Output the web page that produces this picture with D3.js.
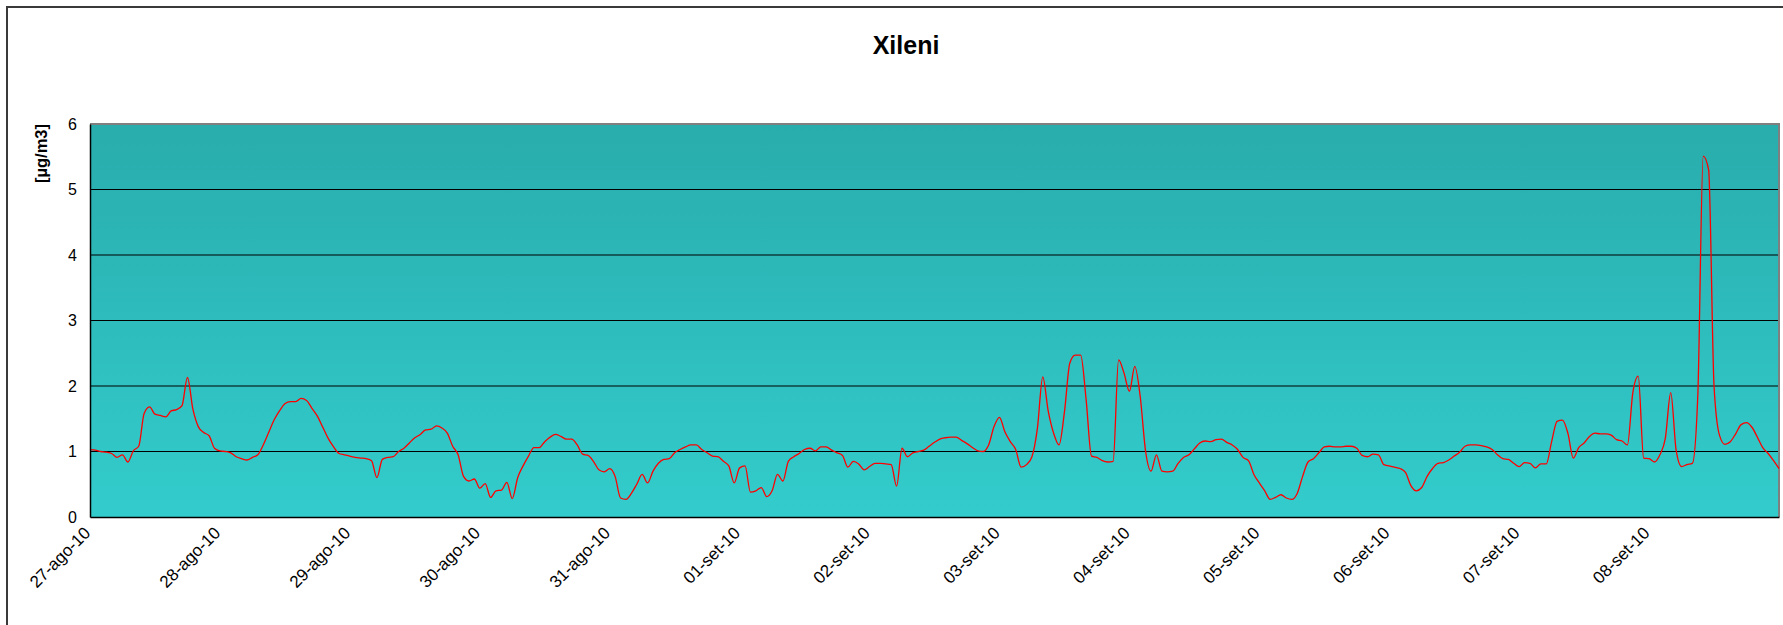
<!DOCTYPE html>
<html>
<head>
<meta charset="utf-8">
<script src="https://cdn.jsdelivr.net/npm/d3@7"></script>
<style>
  body { margin: 0; background: #fff; }
  svg { display: block; font-family: "Liberation Sans", Arial, sans-serif; }
</style>
</head>
<body>
<div id="chart"></div>
<script>
// Hourly series, first value at 27-ago-10 00:00
const startTime = new Date(2010, 7, 27, 0, 0);
const endTime = new Date(2010, 8, 9, 0, 0);

const tickLabels = ["27-ago-10", "28-ago-10", "29-ago-10", "30-ago-10", "31-ago-10", "01-set-10",
    "02-set-10", "03-set-10", "04-set-10", "05-set-10", "06-set-10", "07-set-10", "08-set-10"];
const yTicks = [0, 1, 2, 3, 4, 5, 6];

// Xileni [µg/m3], one array per day (24 hourly values)
const ago27 = [1.03, 1.02, 1.00, 0.99, 0.97, 0.91, 0.95, 0.84, 1.01, 1.08, 1.58, 1.68, 1.57, 1.55, 1.53, 1.62, 1.64, 1.70, 2.13, 1.65, 1.38, 1.29, 1.24, 1.05];
const ago28 = [1.01, 1.00, 0.98, 0.92, 0.89, 0.87, 0.91, 0.95, 1.10, 1.29, 1.48, 1.62, 1.73, 1.76, 1.76, 1.81, 1.78, 1.66, 1.54, 1.37, 1.20, 1.07, 0.97, 0.95];
const ago29 = [0.93, 0.91, 0.90, 0.89, 0.86, 0.60, 0.88, 0.91, 0.92, 1.00, 1.05, 1.13, 1.21, 1.26, 1.33, 1.34, 1.39, 1.36, 1.28, 1.08, 0.95, 0.62, 0.55, 0.58];
const ago30 = [0.44, 0.51, 0.30, 0.40, 0.41, 0.53, 0.28, 0.60, 0.78, 0.93, 1.06, 1.06, 1.15, 1.22, 1.26, 1.23, 1.19, 1.19, 1.10, 0.96, 0.94, 0.85, 0.72, 0.69];
const ago31 = [0.74, 0.62, 0.29, 0.27, 0.36, 0.50, 0.65, 0.52, 0.70, 0.82, 0.88, 0.89, 0.98, 1.03, 1.07, 1.10, 1.10, 1.03, 0.98, 0.93, 0.92, 0.85, 0.78, 0.52];
const set01 = [0.75, 0.78, 0.38, 0.40, 0.45, 0.31, 0.40, 0.65, 0.55, 0.85, 0.92, 0.97, 1.03, 1.05, 1.01, 1.07, 1.07, 1.02, 0.98, 0.94, 0.76, 0.85, 0.81, 0.72];
const set02 = [0.77, 0.82, 0.82, 0.81, 0.80, 0.47, 1.05, 0.92, 0.98, 1.00, 1.02, 1.08, 1.14, 1.19, 1.21, 1.22, 1.22, 1.17, 1.12, 1.06, 1.01, 1.00, 1.10, 1.38];
const set03 = [1.52, 1.30, 1.15, 1.03, 0.76, 0.80, 0.92, 1.35, 2.14, 1.62, 1.28, 1.10, 1.60, 2.35, 2.47, 2.47, 1.80, 0.93, 0.91, 0.86, 0.84, 0.85, 2.40, 2.20];
const set04 = [1.92, 2.30, 1.84, 1.00, 0.70, 0.95, 0.70, 0.69, 0.70, 0.82, 0.91, 0.95, 1.04, 1.13, 1.16, 1.15, 1.18, 1.19, 1.14, 1.10, 1.03, 0.91, 0.86, 0.65];
const set05 = [0.52, 0.40, 0.27, 0.30, 0.34, 0.29, 0.27, 0.36, 0.62, 0.84, 0.89, 0.98, 1.07, 1.08, 1.07, 1.07, 1.08, 1.08, 1.05, 0.94, 0.92, 0.96, 0.95, 0.80];
const set06 = [0.78, 0.76, 0.74, 0.68, 0.48, 0.40, 0.45, 0.62, 0.74, 0.82, 0.83, 0.87, 0.93, 0.99, 1.08, 1.10, 1.10, 1.09, 1.07, 1.03, 0.95, 0.89, 0.88, 0.82];
const set07 = [0.77, 0.83, 0.82, 0.75, 0.81, 0.81, 1.15, 1.46, 1.48, 1.28, 0.90, 1.06, 1.13, 1.23, 1.28, 1.27, 1.27, 1.25, 1.18, 1.16, 1.10, 1.90, 2.15, 0.90];
// last day also holds the 09-set 00:00 value
const set08 = [0.89, 0.84, 0.95, 1.20, 1.90, 1.02, 0.77, 0.80, 0.82, 1.85, 5.51, 5.30, 2.00, 1.25, 1.11, 1.15, 1.27, 1.41, 1.44, 1.37, 1.22, 1.06, 0.97, 0.86, 0.74];

const xileniValues = [].concat(ago27, ago28, ago29, ago30, ago31, set01, set02, set03, set04, set05, set06, set07, set08);

const width = 1783;
const height = 625;
const plot = { left: 90, right: 1779, top: 124, bottom: 517 };

const svg = d3.select("#chart").append("svg")
    .attr("width", width)
    .attr("height", height);

// Outer chart frame
svg.append("rect")
    .attr("x", 7)
    .attr("y", 7)
    .attr("width", 1800)
    .attr("height", 640)
    .attr("fill", "#fff")
    .attr("stroke", "#3a3a3a")
    .attr("stroke-width", 2);

// Scales
const x = d3.scaleTime()
    .domain([startTime, endTime])
    .range([plot.left, plot.right]);

const y = d3.scaleLinear()
    .domain([0, 6])
    .range([plot.bottom, plot.top]);

// Plot area background (vertical gradient)
const grad = svg.append("defs").append("linearGradient")
    .attr("id", "plotBg")
    .attr("x1", 0).attr("y1", 0)
    .attr("x2", 0).attr("y2", 1);
grad.append("stop").attr("offset", "0%").attr("stop-color", "#29acac");
grad.append("stop").attr("offset", "100%").attr("stop-color", "#33cccc");

svg.append("rect")
    .attr("x", plot.left)
    .attr("y", plot.top)
    .attr("width", plot.right - plot.left)
    .attr("height", plot.bottom - plot.top)
    .attr("fill", "url(#plotBg)");

// Horizontal gridlines
svg.selectAll(".grid")
    .data(yTicks.filter(d => d > 0 && d < 6))
    .enter().append("line")
    .attr("class", "grid")
    .attr("x1", plot.left)
    .attr("x2", plot.right)
    .attr("y1", d => y(d))
    .attr("y2", d => y(d))
    .attr("stroke", "#000")
    .attr("stroke-width", 1);

// Top and right plot border (grey)
svg.append("path")
    .attr("d", "M" + plot.left + "," + plot.top + "H" + plot.right + "V" + plot.bottom)
    .attr("fill", "none")
    .attr("stroke", "#7f7f7f")
    .attr("stroke-width", 2);

// The data line
const line = d3.line()
    .x((d, i) => x(d3.timeHour.offset(startTime, i)))
    .y(d => y(d))
    .curve(d3.curveMonotoneX);

svg.append("path")
    .datum(xileniValues)
    .attr("fill", "none")
    .attr("stroke", "#ff0000")
    .attr("stroke-width", 1.3)
    .attr("d", line);

// Y axis
const yAxis = d3.axisLeft(y)
    .tickValues(yTicks)
    .tickSize(0)
    .tickPadding(13)
    .tickFormat(d3.format("d"));

const yG = svg.append("g")
    .attr("transform", "translate(" + plot.left + ",0)")
    .call(yAxis);
yG.select(".domain").attr("stroke", "#000").attr("stroke-width", 1.5);
yG.selectAll("text")
    .attr("font-size", 16)
    .attr("font-family", "Liberation Sans, Arial, sans-serif")
    .attr("fill", "#000");

// X axis with slanted date labels
const tickDates = tickLabels.map((t, i) => d3.timeDay.offset(startTime, i));
const xAxis = d3.axisBottom(x)
    .tickValues(tickDates)
    .tickSize(0)
    .tickSizeOuter(0)
    .tickFormat((d, i) => tickLabels[i]);

const xG = svg.append("g")
    .attr("transform", "translate(0," + plot.bottom + ")")
    .call(xAxis);
xG.select(".domain").attr("stroke", "#000").attr("stroke-width", 1.5);
xG.selectAll("text")
    .attr("y", 0)
    .attr("dy", null)
    .attr("text-anchor", "end")
    .attr("transform", "translate(1,17) rotate(-45)")
    .attr("font-size", 17)
    .attr("font-family", "Liberation Sans, Arial, sans-serif")
    .attr("fill", "#000");

// Y axis title
svg.append("text")
    .attr("transform", "translate(47," + plot.top + ") rotate(-90)")
    .attr("text-anchor", "end")
    .attr("font-size", 16.5)
    .attr("font-weight", "bold")
    .text("[µg/m3]");

// Chart title
svg.append("text")
    .attr("x", 906)
    .attr("y", 54)
    .attr("text-anchor", "middle")
    .attr("font-size", 25)
    .attr("font-weight", "bold")
    .text("Xileni");
</script>
</body>
</html>
